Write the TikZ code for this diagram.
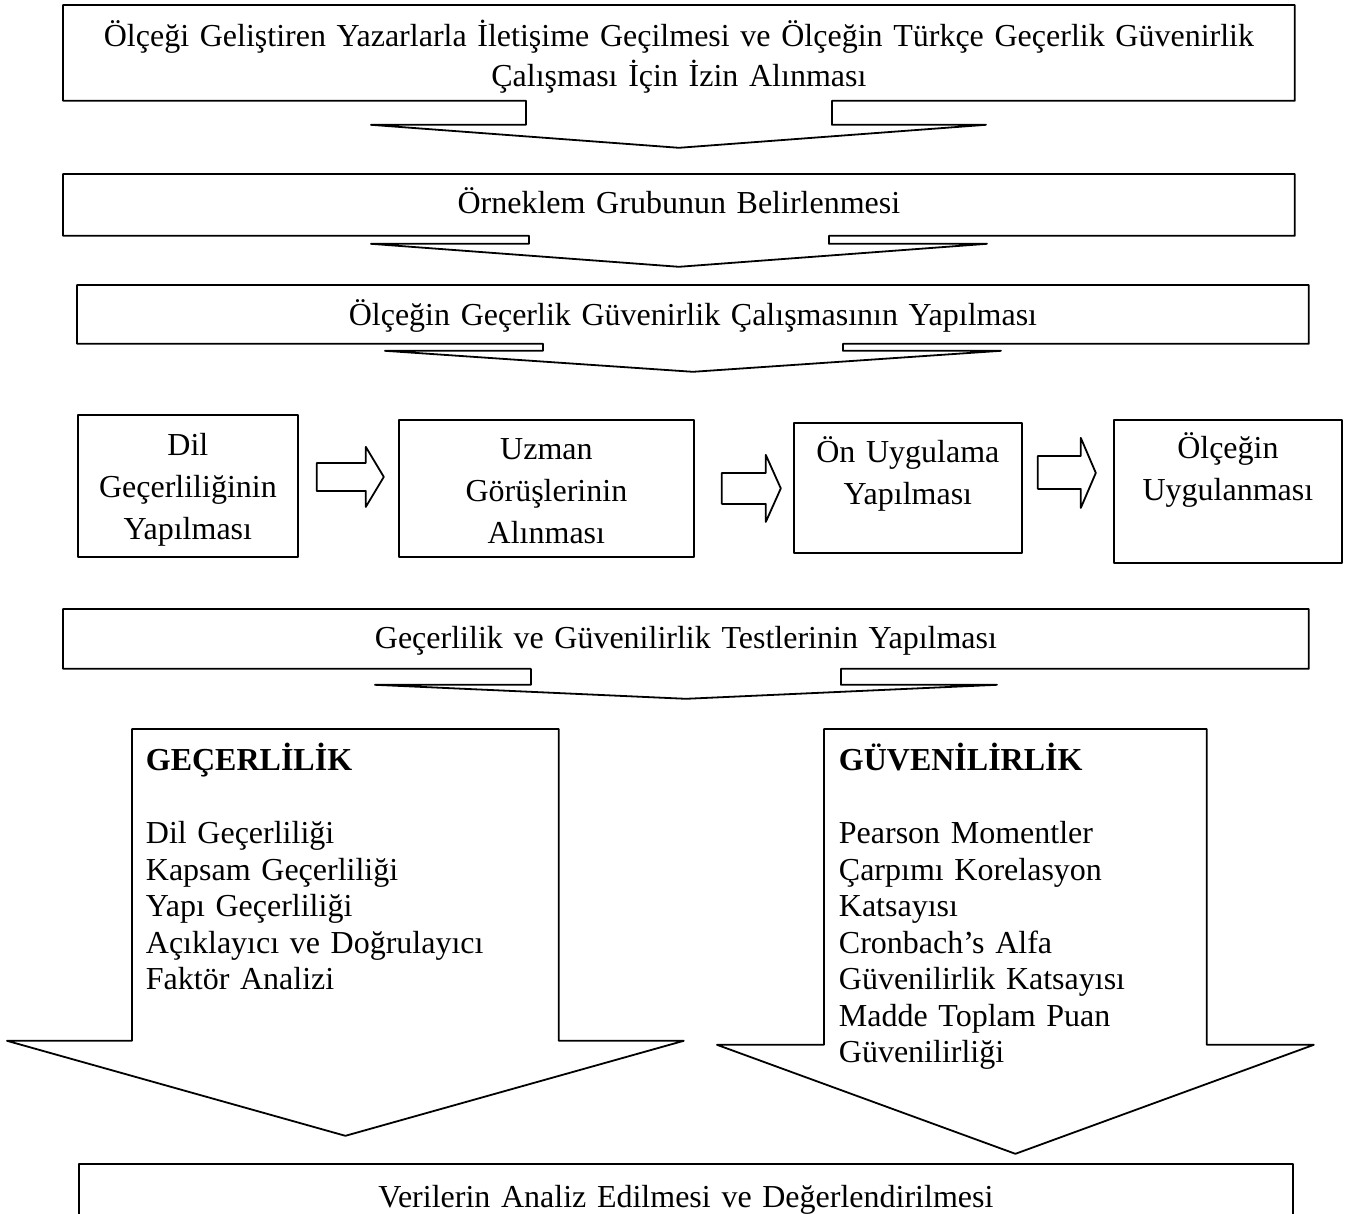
\documentclass[tikz,border=0pt]{standalone}
\usepackage{fontspec}
\setmainfont{Liberation Serif}
\usepackage{tikz}
\usetikzlibrary{calc}

\begin{document}
\begin{tikzpicture}[x=1pt, y=-1pt, line width=1.8pt, line join=round,
		stepbox/.style={inner sep=0pt, align=center, anchor=north west, font=\fontsize{32}{40}\selectfont},
		midbox/.style={draw, inner sep=0pt, align=center, anchor=north west, font=\fontsize{32}{42}\selectfont},
		listbox/.style={inner ysep=0pt, align=left, anchor=north west, text height=41pt, font=\fontsize{32}{36.5}\selectfont}]
		\clip (0,0) rectangle (1357,1213);
		% Top steps (boxes with a down arrow callout)
		\node[stepbox, text width=1230pt, text height=41pt, text depth=53pt] (izin) at (63,5)
			{Ölçeği Geliştiren Yazarlarla İletişime Geçilmesi ve Ölçeğin Türkçe Geçerlik Güvenirlik\\Çalışması İçin İzin Alınması};
		\draw (izin.south west) -- (izin.north west) -- (izin.north east) -- (izin.south east)
			-- ($(izin.south)+(153,0)$) -- ++(0,24) -- ++(154,0) -- ($(izin.south)+(0,47)$)
			-- ($(izin.south)+(-308,24)$) -- ++(155,0) -- ++(0,-24) -- cycle;
		\node[stepbox, text width=1230pt, text height=39pt, text depth=21pt] (orneklem) at (63,174)
			{Örneklem Grubunun Belirlenmesi};
		\draw (orneklem.south west) -- (orneklem.north west) -- (orneklem.north east) -- (orneklem.south east)
			-- ($(orneklem.south)+(150,0)$) -- ++(0,8) -- ++(158,0) -- ($(orneklem.south)+(0,31)$)
			-- ($(orneklem.south)+(-308,8)$) -- ++(158,0) -- ++(0,-8) -- cycle;
		\node[stepbox, text width=1230pt, text height=40pt, text depth=17pt] (calisma) at (77,285)
			{Ölçeğin Geçerlik Güvenirlik Çalışmasının Yapılması};
		\draw (calisma.south west) -- (calisma.north west) -- (calisma.north east) -- (calisma.south east)
			-- ($(calisma.south)+(150,0)$) -- ++(0,7) -- ++(158,0) -- ($(calisma.south)+(0,28)$)
			-- ($(calisma.south)+(-308,7)$) -- ++(158,0) -- ++(0,-7) -- cycle;
		% Middle row
		\node[midbox, text width=220pt, text height=41pt, text depth=101pt] (dil) at (77,414) {Dil\\Geçerliliğinin\\Yapılması};
		\node[midbox, text width=295pt, text height=40pt, text depth=97pt] (uzman) at (398,419) {Uzman\\Görüşlerinin\\Alınması};
		\node[midbox, text width=228pt, text height=40pt, text depth=90pt] (on) at (793,422) {Ön Uygulama\\Yapılması};
		\node[midbox, text width=228pt, text height=39pt, text depth=104pt] (uygula) at (1113,419) {Ölçeğin\\Uygulanması};
		\draw ($(dil.east)+(18,-23)$) -- ++(49,0) -- ++(0,-16) -- ++(18,30) -- ++(-18,30) -- ++(0,-16) -- ++(-49,0) -- cycle;
		\draw ($(uzman.east)+(27,-15.5)$) -- ++(44,0) -- ++(0,-18) -- ++(15,33.5) -- ++(-15,33.5) -- ++(0,-18) -- ++(-44,0) -- cycle;
		\draw ($(on.east)+(15,-32)$) -- ++(43,0) -- ++(0,-18) -- ++(15,35) -- ++(-15,35) -- ++(0,-19) -- ++(-43,0) -- cycle;
		% Tests
		\node[stepbox, text width=1244pt, text height=39pt, text depth=19pt] (testler) at (63,609)
			{Geçerlilik ve Güvenilirlik Testlerinin Yapılması};
		\draw (testler.south west) -- (testler.north west) -- (testler.north east) -- (testler.south east)
			-- ($(testler.south)+(155,0)$) -- ++(0,16) -- ++(156,0) -- ($(testler.south)+(0,30)$)
			-- ($(testler.south)+(-311,16)$) -- ++(156,0) -- ++(0,-16) -- cycle;
		% Big arrows
		\node[listbox, inner xsep=13pt, text width=399pt, text depth=269pt] (gecerlilik) at (132,729)
			{\textbf{GEÇERLİLİK}\\[36.5pt]Dil Geçerliliği\\Kapsam Geçerliliği\\Yapı Geçerliliği\\Açıklayıcı ve Doğrulayıcı\\Faktör Analizi};
		\draw (gecerlilik.south west) -- (gecerlilik.north west) -- (gecerlilik.north east) -- (gecerlilik.south east)
			-- ++(125,0) -- ($(gecerlilik.south)+(0,95)$) -- ($(gecerlilik.south west)+(-125,0)$) -- cycle;
		\node[listbox, inner xsep=14pt, text width=353pt, text depth=273pt] (guvenilirlik) at (824,729)
			{\textbf{GÜVENİLİRLİK}\\[36.5pt]Pearson Momentler\\Çarpımı Korelasyon\\Katsayısı\\Cronbach’s Alfa\\Güvenilirlik Katsayısı\\Madde Toplam Puan\\Güvenilirliği};
		\draw (guvenilirlik.south west) -- (guvenilirlik.north west) -- (guvenilirlik.north east) -- (guvenilirlik.south east)
			-- ++(107,0) -- ($(guvenilirlik.south)+(0,109)$) -- ($(guvenilirlik.south west)+(-107,0)$) -- cycle;
		% Analysis
		\node[midbox, font=\fontsize{32}{40}\selectfont, text width=1214pt, text height=44pt, text depth=50pt] (analiz) at (78,1163)
			{Verilerin Analiz Edilmesi ve Değerlendirilmesi};
	\end{tikzpicture}
\end{document}
